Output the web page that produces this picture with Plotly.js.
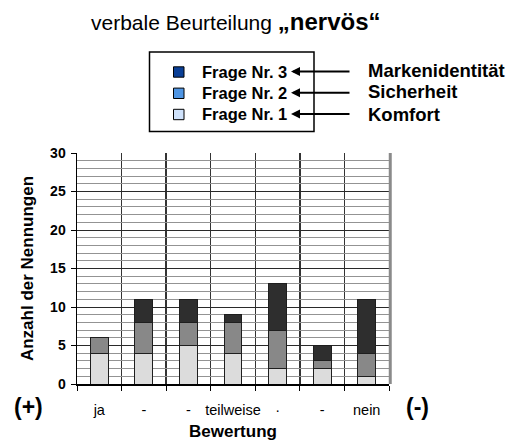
<!DOCTYPE html>
<html>
<head>
<meta charset="utf-8">
<script src="https://cdn.plot.ly/plotly-3.0.1.min.js"></script>
<style>
  html, body { margin: 0; padding: 0; background: #ffffff; }
  #chart { width: 510px; height: 443px; }
</style>
</head>
<body>
<div id="chart"></div>
<script>
// Ratings along the x axis (several share the same "-" label)
const categories = ['ja', '-', '-', 'teilweise', '·', '-', 'nein'];

// Number of mentions per rating, one array per question
const frage1 = [4, 4, 5, 4, 2, 2, 1];
const frage2 = [2, 4, 3, 4, 5, 1, 3];
const frage3 = [0, 3, 3, 1, 6, 2, 7];

const seriesNames = ['Frage Nr. 1', 'Frage Nr. 2', 'Frage Nr. 3'];
const seriesMeaning = ['Komfort', 'Sicherheit', 'Markenidentität'];

const yTicks = [0, 5, 10, 15, 20, 25, 30];

// Layout geometry (pixels)
const W = 510, H = 443;
const M = { l: 77, r: 121, t: 153, b: 59 };
const PW = W - M.l - M.r, PH = H - M.t - M.b;
const px = v => (v - M.l) / PW;          // page x -> paper x
const py = v => (H - M.b - v) / PH;      // page y -> paper y

const FONT = 'Liberation Sans, Arial, sans-serif';
const barFill = ['#dcdcdc', '#888888', '#2e2e2e'];
const swatchFill = ['#cfe2fb', '#4f95e3', '#0a3f96'];

const xPos = categories.map((_, i) => i);
const values = [frage1, frage2, frage3];

const traces = values.map((vals, k) => ({
  type: 'bar',
  x: xPos,
  y: vals,
  name: seriesNames[k],
  showlegend: false,
  marker: { color: barFill[k], line: { color: '#1e1e1e', width: 1 } },
  hoverinfo: 'skip'
}));

const shapes = [];
const annotations = [];

// Right frame edge of the plot area
shapes.push({ type: 'line', xref: 'paper', yref: 'paper', x0: 1.004, x1: 1.004, y0: 0, y1: 1,
  line: { color: '#8a8a8a', width: 3 } });

// Legend box
shapes.push({ type: 'rect', xref: 'paper', yref: 'paper',
  x0: px(149.5), x1: px(314), y0: py(52), y1: py(131.5),
  line: { color: '#000000', width: 1.5 }, fillcolor: 'rgba(0,0,0,0)' });

const rowY = [114.5, 93.3, 72];   // Frage Nr. 1, 2, 3 (bottom to top)
const labelY = [114, 92, 70.5];
for (let k = 0; k < 3; k++) {
  const cy = rowY[k];
  shapes.push({ type: 'rect', xref: 'paper', yref: 'paper',
    x0: px(173.5), x1: px(184), y0: py(cy + 5.2), y1: py(cy - 5.2),
    fillcolor: swatchFill[k], line: { color: '#000000', width: 1 } });
  annotations.push({ xref: 'paper', yref: 'paper', x: px(200), y: py(cy),
    xanchor: 'left', yanchor: 'middle', showarrow: false,
    text: '<b>' + seriesNames[k] + '</b>',
    font: { family: FONT, size: 16.5, color: '#000000' } });
  // arrow from the explanation back to the legend entry
  annotations.push({ xref: 'paper', yref: 'paper', x: px(291), y: py(cy - 0.5),
    ax: 60, ay: 0, text: '', showarrow: true,
    arrowhead: 2, arrowsize: 0.9, arrowwidth: 2, arrowcolor: '#000000' });
  annotations.push({ xref: 'paper', yref: 'paper', x: px(366), y: py(labelY[k]),
    xanchor: 'left', yanchor: 'middle', showarrow: false,
    text: '<b>' + seriesMeaning[k] + '</b>',
    font: { family: FONT, size: 18.5, color: '#000000' } });
}

// Chart heading
annotations.push({ xref: 'paper', yref: 'paper', x: px(236), y: py(21),
  xanchor: 'center', yanchor: 'middle', showarrow: false,
  text: 'verbale Beurteilung <span style="font-size:24px"><b>„nervös“</b></span>',
  font: { family: FONT, size: 21, color: '#000000' } });

// Direction markers at both ends of the scale
annotations.push({ xref: 'paper', yref: 'paper', x: px(28), y: py(407),
  xanchor: 'center', yanchor: 'middle', showarrow: false,
  text: '<b>(+)</b>', font: { family: FONT, size: 23, color: '#000000' } });
annotations.push({ xref: 'paper', yref: 'paper', x: px(418), y: py(407),
  xanchor: 'center', yanchor: 'middle', showarrow: false,
  text: '<b>(-)</b>', font: { family: FONT, size: 23, color: '#000000' } });

const layout = {
  width: W, height: H,
  margin: M,
  paper_bgcolor: '#ffffff',
  plot_bgcolor: '#ffffff',
  barmode: 'stack',
  bargap: 0.6,
  showlegend: false,
  xaxis: {
    range: [-0.5, categories.length - 0.5],
    tickmode: 'array',
    tickvals: xPos,
    ticktext: categories,
    ticks: '',
    showgrid: false,
    zeroline: false,
    showline: true, linecolor: '#000000', linewidth: 1.5,
    ticklabelstandoff: 12,
    tickfont: { family: FONT, size: 14.5, color: '#000000' },
    minor: {
      tickmode: 'array',
      tickvals: categories.map((_, i) => i - 0.5).concat([categories.length - 0.5]),
      ticks: 'outside', ticklen: 5, tickcolor: '#000000', tickwidth: 1,
      showgrid: true, gridcolor: '#333333', gridwidth: 1.5
    },
    title: { text: '<b>Bewertung</b>', font: { family: FONT, size: 17, color: '#000000' }, standoff: 8 },
    fixedrange: true
  },
  yaxis: {
    range: [0, 30],
    tickmode: 'array',
    tickvals: yTicks,
    ticks: 'outside', ticklen: 5, tickcolor: '#000000', tickwidth: 1,
    tickfont: { family: FONT, size: 14, color: '#000000', weight: 'bold' },
    ticklabelstandoff: 2,
    showgrid: true, gridcolor: '#2a2a2a', gridwidth: 1,
    zeroline: false,
    showline: true, linecolor: '#000000', linewidth: 1.5,
    minor: { dtick: 1, showgrid: true, gridcolor: '#939393', gridwidth: 1, ticks: '' },
    title: { text: '<b>Anzahl der Nennungen</b>', font: { family: FONT, size: 17, color: '#000000' }, standoff: 12 },
    fixedrange: true
  },
  shapes: shapes,
  annotations: annotations
};

Plotly.newPlot('chart', traces, layout, { staticPlot: true, displayModeBar: false });
</script>
</body>
</html>
